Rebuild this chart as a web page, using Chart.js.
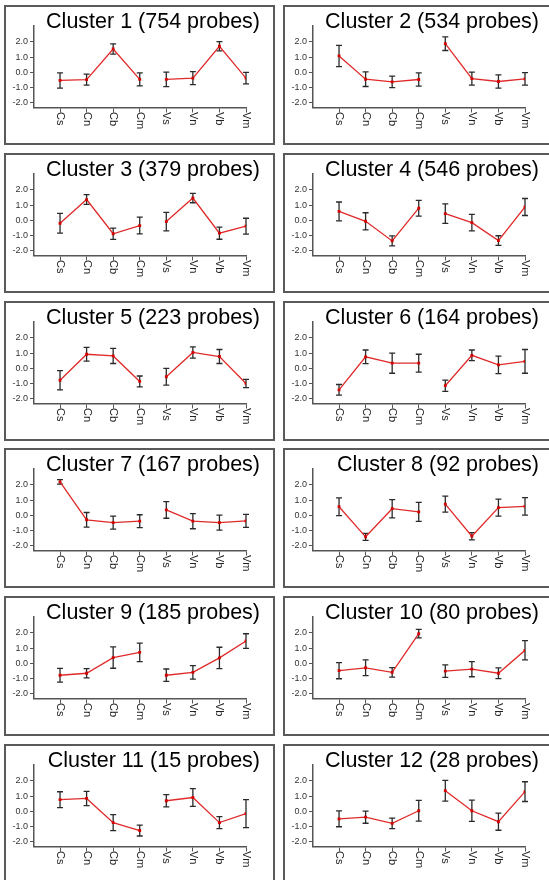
<!DOCTYPE html>
<html>
<head>
<meta charset="utf-8">
<script src="https://cdn.jsdelivr.net/npm/chart.js@4.4.1/dist/chart.umd.min.js"></script>
<style>
  html, body { margin: 0; padding: 0; background: #fff; }
  body { width: 549px; height: 880px; overflow: hidden; position: relative; }
  .box { position: absolute; width: 271px; height: 140px; box-sizing: border-box; border: 2px solid #5a5a5a; }
  canvas.panel { position: absolute; }
</style>
</head>
<body>
<script>
// conditions on the x axis
const categories = ['Cs', 'Cn', 'Cb', 'Cm', 'Vs', 'Vn', 'Vb', 'Vm'];
const yTickValues = [-2, -1, 0, 1, 2];

const clusterIds = [1, 2, 3, 4, 5, 6, 7, 8, 9, 10, 11, 12];
const probeCounts = [754, 534, 379, 546, 223, 164, 167, 92, 185, 80, 15, 28];

// mean profile per cluster (one value per category)
const means = [
  [-0.53, -0.48, 1.54, -0.46, -0.46, -0.38, 1.72, -0.38],
  [1.08, -0.45, -0.62, -0.47, 1.89, -0.41, -0.60, -0.43],
  [-0.19, 1.37, -0.88, -0.34, -0.08, 1.47, -0.84, -0.38],
  [0.59, -0.06, -1.35, 0.80, 0.44, -0.15, -1.33, 0.88],
  [-0.78, 0.93, 0.82, -0.86, -0.55, 1.05, 0.78, -0.99],
  [-1.41, 0.76, 0.34, 0.34, -1.14, 0.86, 0.23, 0.46],
  [2.20, -0.29, -0.48, -0.38, 0.36, -0.38, -0.48, -0.36],
  [0.57, -1.41, 0.44, 0.23, 0.74, -1.37, 0.51, 0.59],
  [-0.78, -0.65, 0.38, 0.72, -0.78, -0.59, 0.36, 1.47],
  [-0.48, -0.29, -0.59, 1.96, -0.51, -0.38, -0.65, 0.86],
  [0.77, 0.85, -0.74, -1.26, 0.70, 0.91, -0.74, -0.15],
  [-0.49, -0.38, -0.79, 0.04, 1.36, 0.04, -0.68, 1.30]
];

// half length of the error bars
const errors = [
  [0.50, 0.36, 0.34, 0.43, 0.48, 0.43, 0.30, 0.38],
  [0.70, 0.48, 0.38, 0.44, 0.45, 0.43, 0.44, 0.41],
  [0.65, 0.32, 0.37, 0.55, 0.61, 0.31, 0.40, 0.52],
  [0.62, 0.56, 0.33, 0.52, 0.64, 0.54, 0.32, 0.56],
  [0.63, 0.45, 0.50, 0.36, 0.55, 0.37, 0.46, 0.27],
  [0.35, 0.45, 0.66, 0.59, 0.37, 0.35, 0.57, 0.78],
  [0.15, 0.48, 0.43, 0.42, 0.55, 0.50, 0.49, 0.43],
  [0.58, 0.23, 0.60, 0.63, 0.53, 0.24, 0.56, 0.58],
  [0.45, 0.31, 0.70, 0.61, 0.41, 0.44, 0.70, 0.48],
  [0.53, 0.52, 0.31, 0.28, 0.41, 0.50, 0.35, 0.63],
  [0.52, 0.47, 0.53, 0.36, 0.40, 0.58, 0.40, 0.92],
  [0.52, 0.40, 0.35, 0.68, 0.68, 0.70, 0.56, 0.65]
];

const lineColor = '#e02a2a';
const pointColor = '#d40000';
const axisColor = '#555';
const textColor = '#333';
const fontFamily = '"Liberation Sans", Arial, sans-serif';

const errorBars = {
  id: 'errorBars',
  beforeDatasetsDraw(chart) {
    const errs = chart.options.plugins.errorBars.values;
    const xs = chart.scales.x, ys = chart.scales.y;
    const ctx = chart.ctx;
    ctx.save();
    ctx.strokeStyle = '#2a2a2a';
    ctx.lineWidth = 1.3;
    chart.data.datasets[0].data.forEach((p, i) => {
      const x = xs.getPixelForValue(p.x);
      const top = ys.getPixelForValue(p.y + errs[i]);
      const bot = ys.getPixelForValue(p.y - errs[i]);
      ctx.beginPath();
      ctx.moveTo(x, top); ctx.lineTo(x, bot);
      ctx.moveTo(x - 3, top); ctx.lineTo(x + 3, top);
      ctx.moveTo(x - 3, bot); ctx.lineTo(x + 3, bot);
      ctx.stroke();
    });
    ctx.restore();
  }
};

// x labels read top to bottom, which Chart.js rotation can't do
const downLabels = {
  id: 'downLabels',
  afterDraw(chart) {
    const xs = chart.scales.x;
    const ctx = chart.ctx;
    ctx.save();
    ctx.fillStyle = '#222';
    ctx.font = '11px ' + fontFamily;
    ctx.textAlign = 'left';
    ctx.textBaseline = 'middle';
    categories.forEach((c, i) => {
      ctx.save();
      ctx.translate(xs.getPixelForValue(i), chart.chartArea.bottom + 4.5);
      ctx.rotate(Math.PI / 2);
      ctx.fillText(c, 0, 0);
      ctx.restore();
    });
    ctx.restore();
  }
};

const panelTitle = {
  id: 'panelTitle',
  afterDraw(chart) {
    const ctx = chart.ctx;
    ctx.save();
    ctx.fillStyle = '#000';
    ctx.font = '21.5px ' + fontFamily;
    ctx.textAlign = 'right';
    ctx.textBaseline = 'alphabetic';
    ctx.fillText(chart.options.plugins.panelTitle.text, 256, 22.5);
    ctx.restore();
  }
};

const rowTop = [5, 153, 301, 448, 596, 744];
const colLeft = [4, 283];

clusterIds.forEach((id, k) => {
  const left = colLeft[k % 2];
  const top = rowTop[Math.floor(k / 2)];

  const box = document.createElement('div');
  box.className = 'box';
  box.style.left = left + 'px';
  box.style.top = top + 'px';
  document.body.appendChild(box);

  const canvas = document.createElement('canvas');
  canvas.className = 'panel';
  canvas.width = 271;
  canvas.height = 140;
  canvas.style.left = left + 'px';
  canvas.style.top = top + 'px';
  document.body.appendChild(canvas);

  new Chart(canvas.getContext('2d'), {
    type: 'line',
    data: {
      datasets: [{
        data: means[k].map((m, i) => ({ x: i, y: m })),
        borderColor: lineColor,
        borderWidth: 1.3,
        pointStyle: 'rect',
        pointRadius: 2,
        pointBackgroundColor: pointColor,
        pointBorderColor: pointColor,
        pointBorderWidth: 0,
        segment: {
          // no line between the C and V groups
          borderColor: c => c.p0DataIndex === 3 ? 'rgba(0,0,0,0)' : lineColor
        }
      }]
    },
    options: {
      responsive: false,
      animation: false,
      devicePixelRatio: 1,
      layout: { padding: { top: 21, right: 29, left: 0, bottom: 0 } },
      plugins: {
        legend: { display: false },
        tooltip: { enabled: false },
        errorBars: { values: errors[k] },
        panelTitle: { text: `Cluster ${id} (${probeCounts[k]} probes)` }
      },
      scales: {
        x: {
          type: 'linear',
          min: -0.98,
          max: 7,
          afterBuildTicks: s => { s.ticks = categories.map((c, i) => ({ value: i })); },
          afterFit: s => { s.height = 37.5; },
          ticks: { display: false },
          grid: { drawOnChartArea: false, drawTicks: true, tickLength: 5, color: axisColor, lineWidth: 1 },
          border: { display: true, color: axisColor, width: 1.5 }
        },
        y: {
          min: -2.31,
          max: 3.05,
          afterBuildTicks: s => { s.ticks = yTickValues.map(v => ({ value: v })); },
          afterFit: s => { s.width = 30; },
          ticks: {
            color: textColor,
            padding: 2,
            font: { size: 9, family: fontFamily },
            callback: v => v.toFixed(1)
          },
          grid: { drawOnChartArea: false, drawTicks: true, tickLength: 4, color: axisColor, lineWidth: 1 },
          border: { display: true, color: axisColor, width: 1.5 }
        }
      }
    },
    plugins: [errorBars, downLabels, panelTitle]
  });
});
</script>
</body>
</html>
